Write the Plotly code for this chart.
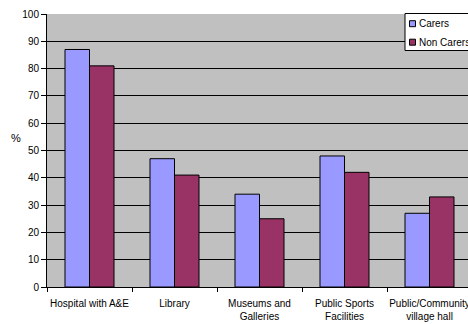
import plotly.graph_objects as go

# Facility usage by carers vs non-carers (%)
categories = [
    "Hospital with A&E",
    "Library",
    "Museums and<br>Galleries",
    "Public Sports<br>Facilities",
    "Public/Community<br>village hall",
]
carers = [87, 47, 34, 48, 27]
non_carers = [81, 41, 25, 42, 33]
series_names = ["Carers", "Non Carers"]
y_ticks = list(range(0, 101, 10))

W, H = 468, 324
ML, MR, MT, MB = 47, 0, 14, 37
PW, PH = W - ML - MR, H - MT - MB
CAT_W = 85  # pixel width of one category slot

BLUE = "#9999FF"
MAROON = "#993366"
FONT = "Liberation Sans"


def px_x(x):
    return (x - ML) / PW


def px_y(y):
    return (H - MB - y) / PH


fig = go.Figure()
for name, vals, col in [(series_names[0], carers, BLUE), (series_names[1], non_carers, MAROON)]:
    fig.add_trace(go.Bar(
        x=categories, y=vals, name=name,
        marker=dict(color=col, line=dict(color="#000000", width=1)),
        showlegend=False,
    ))

# Legend box drawn in pixel terms
shapes = [
    dict(type="rect", xref="paper", yref="paper",
         x0=px_x(405), x1=px_x(475), y0=px_y(50.5), y1=px_y(13.5),
         fillcolor="white", line=dict(color="#000000", width=1), layer="above"),
]
annotations = []
for i, (name, col) in enumerate([(series_names[0], BLUE), (series_names[1], MAROON)]):
    cy = 23.7 + i * 18.5
    shapes.append(dict(type="rect", xref="paper", yref="paper",
                       x0=px_x(409.5), x1=px_x(415.5), y0=px_y(cy + 3), y1=px_y(cy - 3),
                       fillcolor=col, line=dict(color="#000000", width=1), layer="above"))
    annotations.append(dict(text=name, xref="paper", yref="paper",
                            x=px_x(416.5), y=px_y(cy), xanchor="left", yanchor="middle",
                            showarrow=False, font=dict(family=FONT, size=10, color="#000")))

annotations.append(dict(text="%", xref="paper", yref="paper",
                        x=px_x(16), y=px_y(138), xanchor="center", yanchor="middle",
                        showarrow=False, font=dict(family=FONT, size=11, color="#000")))

fig.update_layout(
    width=W, height=H,
    margin=dict(l=ML, r=MR, t=MT, b=MB, autoexpand=False),
    paper_bgcolor="white",
    plot_bgcolor="#C0C0C0",
    barmode="group",
    bargap=36 / 85,
    bargroupgap=0,
    font=dict(family=FONT, size=10, color="#000"),
    shapes=shapes,
    annotations=annotations,
    xaxis=dict(
        type="category",
        range=[-0.5, -0.5 + PW / CAT_W],
        tickson="boundaries",
        ticks="outside", ticklen=4, tickcolor="#000",
        tickangle=0,
        showline=True, linecolor="#000", linewidth=1,
        showgrid=False, zeroline=False,
        tickfont=dict(family=FONT, size=10, color="#000"),
        ticklabelstandoff=7,
    ),
    yaxis=dict(
        range=[0, 100],
        tickvals=y_ticks,
        ticks="outside", ticklen=5, tickcolor="#000",
        showline=True, linecolor="#000", linewidth=1,
        showgrid=True, gridcolor="#000", gridwidth=1,
        zeroline=False,
        tickfont=dict(family=FONT, size=10, color="#000"),
    ),
)

fig.write_html("out.html")
